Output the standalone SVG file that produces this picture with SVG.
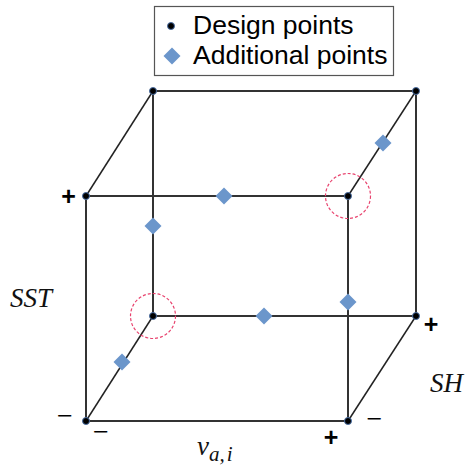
<svg xmlns="http://www.w3.org/2000/svg" width="468" height="466" viewBox="0 0 468 466">
<defs>
<style>
.edge{stroke:#333;stroke-width:2;fill:none}
.diag{stroke:#222;stroke-width:1.5;fill:none}
.dot{fill:#000;stroke:#4a6fa5;stroke-width:1}
.dia{fill:#6b96cb}
.ring{fill:none;stroke:#e8436e;stroke-width:1.2;stroke-dasharray:3 2}
.sign{font-family:"Liberation Sans",Arial,sans-serif;font-size:25px;font-weight:bold;fill:#000}
.minus{font-family:"Liberation Serif","Times New Roman",serif;font-size:28px;fill:#000}
.axis{font-family:"Liberation Serif","Times New Roman",serif;font-style:italic;font-size:27px;fill:#111}
.leg{font-family:"Liberation Sans",Arial,sans-serif;font-size:26.5px;fill:#000}
</style>
<path id="d" d="M0,-8.5 L8.5,0 L0,8.5 L-8.5,0 Z"/>
</defs>
<rect width="468" height="466" fill="#fff"/>
<g id="connectors">
<line class="edge" x1="153" y1="91" x2="416" y2="91"/>
<line class="edge" x1="153" y1="91" x2="153" y2="316"/>
<line class="edge" x1="416" y1="91" x2="416" y2="316"/>
<line class="edge" x1="153" y1="316" x2="416" y2="316"/>
<line class="edge" x1="86" y1="196" x2="348" y2="196"/>
<line class="edge" x1="86" y1="196" x2="86" y2="421"/>
<line class="edge" x1="348" y1="196" x2="348" y2="421"/>
<line class="edge" x1="86" y1="421" x2="348" y2="421"/>
<line class="diag" x1="86" y1="196" x2="153" y2="91"/>
<line class="diag" x1="348" y1="196" x2="416" y2="91"/>
<line class="diag" x1="86" y1="421" x2="153" y2="316"/>
<line class="diag" x1="348" y1="421" x2="416" y2="316"/>
</g>
<g id="rings">
<circle class="ring" cx="348" cy="196" r="22.5"/>
<circle class="ring" cx="153" cy="316" r="22.5"/>
</g>
<g id="design-points">
<circle id="p1" class="dot" cx="153" cy="91" r="3.5"/>
<circle id="p2" class="dot" cx="416" cy="91" r="3.5"/>
<circle id="p3" class="dot" cx="86" cy="196" r="3.5"/>
<circle id="p4" class="dot" cx="348" cy="196" r="3.5"/>
<circle id="p5" class="dot" cx="153" cy="316" r="3.5"/>
<circle id="p6" class="dot" cx="416" cy="316" r="3.5"/>
<circle id="p7" class="dot" cx="86" cy="421" r="3.5"/>
<circle id="p8" class="dot" cx="348" cy="421" r="3.5"/>
</g>
<g id="additional-points">
<use id="a1" href="#d" class="dia" x="224" y="196"/>
<use id="a2" href="#d" class="dia" x="153" y="226"/>
<use id="a3" href="#d" class="dia" x="383" y="143"/>
<use id="a4" href="#d" class="dia" x="348" y="302"/>
<use id="a5" href="#d" class="dia" x="264" y="316"/>
<use id="a6" href="#d" class="dia" x="122" y="362"/>
</g>
<g id="labels">
<text class="sign" x="68.500" y="204.500" text-anchor="middle">+</text>
<text class="sign" x="431" y="332.500" text-anchor="middle">+</text>
<text class="sign" x="331" y="445.500" text-anchor="middle">+</text>
<text class="minus" x="65" y="425" text-anchor="middle">−</text>
<text class="minus" x="101" y="441" text-anchor="middle">−</text>
<text class="minus" x="374.500" y="428" text-anchor="middle">−</text>
<text class="axis" x="10" y="307">SST</text>
<text class="axis" x="430" y="392">SH</text>
<text class="axis" x="197" y="455" font-size="30">v<tspan font-size="21" dy="6">a</tspan><tspan font-size="21">,</tspan><tspan font-size="21" dx="2">i</tspan></text>
</g>
<g id="legend">
<rect x="154.500" y="6.500" width="239" height="69" fill="#fff" stroke="#555" stroke-width="1.2"/>
<circle class="dot" cx="171" cy="26" r="3.5"/>
<use href="#d" class="dia" x="172" y="56"/>
<text class="leg" x="193" y="34">Design points</text>
<text class="leg" x="193" y="64">Additional points</text>
</g>
</svg>
